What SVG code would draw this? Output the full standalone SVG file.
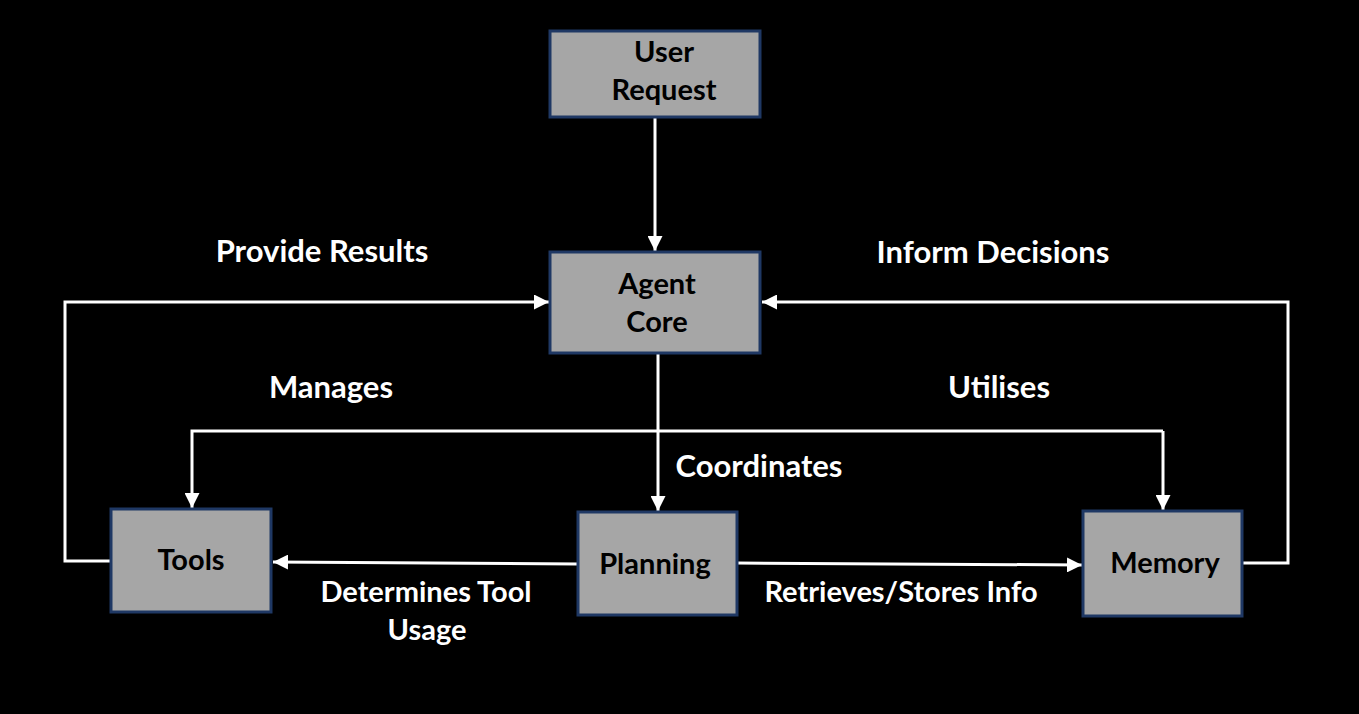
<svg xmlns="http://www.w3.org/2000/svg" width="1359" height="714" viewBox="0 0 1359 714">
<defs>
<style>
.node rect{fill:#a6a6a6;stroke:#1f3864;stroke-width:3}
.node text{font-family:Lato,"Liberation Sans",sans-serif;font-weight:bold;font-size:29px;fill:#000;text-anchor:middle}
.lbl{font-family:Lato,"Liberation Sans",sans-serif;font-weight:bold;font-size:31px;fill:#fff;text-anchor:middle}
.lbl.sm{font-size:29px}
.conn{fill:none;stroke:#fff;stroke-width:3}
</style>
<marker id="arr" viewBox="0 0 10 10" refX="10" refY="5" markerWidth="5" markerHeight="5" markerUnits="strokeWidth" orient="auto">
<path d="M0,0 L10,5 L0,10 z" fill="#fff"/>
</marker>
</defs>
<rect width="1359" height="714" fill="#000"/>
<g id="connectors">
<path class="conn" d="M655,118 V251" marker-end="url(#arr)"/>
<path class="conn" d="M111,561 H65 V302 H549" marker-end="url(#arr)"/>
<path class="conn" d="M1242,563 H1288 V302 H762" marker-end="url(#arr)"/>
<path class="conn" d="M658,354 V511" marker-end="url(#arr)"/>
<path class="conn" d="M1163,431 H192 V508" marker-end="url(#arr)"/>
<path class="conn" d="M1163,431 V510" marker-end="url(#arr)"/>
<path class="conn" d="M578,564 L273,562" marker-end="url(#arr)"/>
<path class="conn" d="M737,563 L1082,565" marker-end="url(#arr)"/>
</g>
<g id="user-request" class="node">
<rect x="550" y="31" width="210" height="86"/>
<text x="664" y="62">User</text>
<text x="664" y="100">Request</text>
</g>
<g id="agent-core" class="node">
<rect x="550" y="252" width="210" height="101"/>
<text x="657" y="294">Agent</text>
<text x="657" y="332">Core</text>
</g>
<g id="tools" class="node">
<rect x="111" y="509" width="160" height="103"/>
<text x="191" y="570">Tools</text>
</g>
<g id="planning" class="node">
<rect x="578" y="512" width="159" height="103"/>
<text x="655" y="574">Planning</text>
</g>
<g id="memory" class="node">
<rect x="1083" y="511" width="159" height="105"/>
<text x="1165" y="573">Memory</text>
</g>
<g id="labels">
<text class="lbl" x="322" y="262">Provide Results</text>
<text class="lbl" x="993" y="263">Inform Decisions</text>
<text class="lbl" x="331" y="398">Manages</text>
<text class="lbl" x="999" y="398">Utilises</text>
<text class="lbl" x="759" y="477">Coordinates</text>
<text class="lbl sm" x="426" y="602">Determines Tool</text>
<text class="lbl sm" x="427" y="640">Usage</text>
<text class="lbl sm" x="901" y="602">Retrieves/Stores Info</text>
</g>
</svg>
